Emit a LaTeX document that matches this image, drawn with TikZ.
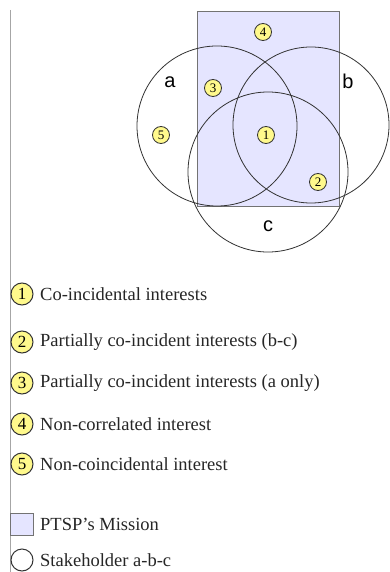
\documentclass[tikz,border=0pt]{standalone}
\usepackage{fontspec}
\setmainfont{Liberation Serif}
\newfontfamily\labfont{Liberation Sans}
\begin{document}
\begin{tikzpicture}[x=1pt,y=-1pt,
  num/.style={circle,draw=black!80,fill=yellow!45,line width=0.8pt,inner sep=0pt,minimum size=17pt,font=\fontsize{13}{13}\selectfont},
  lnum/.style={circle,draw=black!80,fill=yellow!45,line width=1pt,inner sep=0pt,minimum size=22pt,font=\fontsize{17}{17}\selectfont},
  venn/.style={draw=black!80,line width=0.8pt},
  lbl/.style={font=\labfont\fontsize{20}{20}\selectfont,inner sep=0pt},
  ltext/.style={anchor=west,inner sep=0pt,font=\fontsize{18.5}{20}\selectfont,text=black!85}]
\useasboundingbox (0,0) rectangle (390,572);
\draw[black!35,line width=0.6pt] (10,10) -- (10,572);
% mission rectangle
\fill[blue!10!white] (197,11) rectangle (339,206);
\draw[black!55,line width=0.8pt] (197,11) rectangle (339,206);
% stakeholder circles
\draw[venn] (217,126) circle[radius=80];
\draw[venn] (311,125) circle[radius=78];
\draw[venn] (268,172) circle[radius=80];
% labels
\node[lbl] (la) at (170,82) {a};
\node[lbl] (lb) at (348,81) {b};
\node[lbl] (lc) at (268,226) {c};
% markers
\node[num] (m4) at (263,32) {4};
\node[num] (m3) at (213,88) {3};
\node[num] (m5) at (161,135) {5};
\node[num] (m1) at (266,135) {1};
\node[num] (m2) at (318,182) {2};
% legend
\node[lnum] (k1) at (22,294) {1};
\node[lnum] (k2) at (22,342) {2};
\node[lnum] (k3) at (22,383) {3};
\node[lnum] (k4) at (22,424) {4};
\node[lnum] (k5) at (22,464) {5};
\node[ltext] (t1) at (40,294) {Co-incidental interests};
\node[ltext] (t2) at (40,342) {Partially co-incident interests (b-c)};
\node[ltext] (t3) at (40,383) {Partially co-incident interests (a only)};
\node[ltext] (t4) at (40,424) {Non-correlated interest};
\node[ltext] (t5) at (40,464) {Non-coincidental interest};
\node[draw=black!55,fill=blue!10!white,line width=1pt,minimum width=23pt,minimum height=22pt,inner sep=0pt] (ksq) at (22,524) {};
\node[draw=black!80,line width=1pt,circle,minimum size=22pt,inner sep=0pt] (kci) at (22,560) {};
\node[ltext] (t6) at (40,524) {PTSP's Mission};
\node[ltext] (t7) at (40,560) {Stakeholder a-b-c};
\end{tikzpicture}
\end{document}
